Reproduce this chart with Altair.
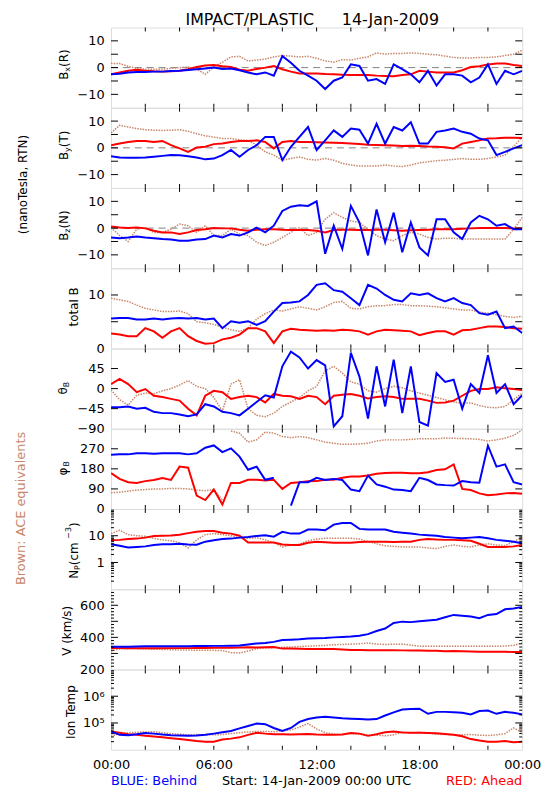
import altair as alt
import pandas as pd

FONT = "DejaVu Sans"
BLUE = "#0000ff"
RED = "#ff0000"
BROWN = "#c8866a"

# time axis (hours after 14-Jan-2009 00:00 UTC), half-hour samples
HOURS = [0.0, 0.5, 1.0, 1.5, 2.0, 2.5, 3.0, 3.5, 4.0, 4.5, 5.0, 5.5, 6.0, 6.5, 7.0, 7.5,
         8.0, 8.5, 9.0, 9.5, 10.0, 10.5, 11.0, 11.5, 12.0, 12.5, 13.0, 13.5, 14.0, 14.5,
         15.0, 15.5, 16.0, 16.5, 17.0, 17.5, 18.0, 18.5, 19.0, 19.5, 20.0, 20.5, 21.0,
         21.5, 22.0, 22.5, 23.0, 23.5, 24.0]

# ---- Bx (R) ----
BX_BLUE = [-2.5, -2.3, -1.8, -1.6, -1.6, -1.5, -1.5, -1.3, -1.2, -0.9, -0.6, -0.3, 0.0, -0.5, -0.3, -1.0,
           -1.8, -2.5, -1.8, -3.0, 4.3, 1.8, -1.2, -3.0, -4.9, -8.0, -4.9, -3.7, 1.2, 0.6, -4.9, -4.3,
           -6.1, 1.2, -0.6, -2.5, -5.5, -1.2, -6.7, -2.5, -2.5, -3.0, -5.5, -3.7, 1.2, -6.1, -1.2, -2.5, -1.2]
BX_RED = [-2.5, -1.8, -1.2, -0.8, -1.2, -1.4, -1.5, -1.4, -1.2, -0.6, 0.2, 0.8, 1.0, 0.5, 0.2, -0.8,
          -1.2, -0.5, 0.0, 0.6, -0.6, -1.5, -2.2, -2.2, -2.2, -2.4, -2.5, -2.7, -2.8, -2.8, -2.8, -3.0,
          -3.1, -3.2, -2.8, -2.5, -1.2, -1.5, -1.8, -1.8, -1.8, -1.0, 0.2, 0.5, 1.2, 1.5, 1.5, 1.0, 0.6]
BX_BROWN = [1.6, 1.5, 0.5, -0.3, -0.6, -0.6, -0.6, -0.3, 0.0, 0.2, -0.5, -2.5, 0.3, 2.0, 4.0, 4.2,
            2.5, 2.8, 3.2, 4.0, 4.5, 4.3, 4.0, 4.2, 3.5, 2.5, 2.0, 3.0, 2.8, 3.5, 4.0, 5.5,
            5.0, 5.3, 5.3, 5.5, 5.3, 5.0, 4.8, 4.3, 3.8, 3.6, 3.6, 3.8, 3.8, 4.0, 4.5, 5.0, 6.5]

# ---- By (T) ----
BY_BLUE = [-3.1, -3.6, -3.7, -3.7, -3.6, -3.3, -3.0, -2.7, -2.8, -3.1, -3.6, -4.3, -4.0, -2.7, -0.8, -3.3,
           -0.8, 1.0, 4.1, 4.1, -4.6, 0.4, 4.1, 7.8, -0.8, 2.8, 6.5, 4.1, 7.2, 6.8, 1.6, 9.0,
           1.6, 7.8, 6.5, 9.6, 1.6, 1.6, 6.0, 6.5, 7.2, 6.0, 5.3, 3.5, 2.8, -2.7, -1.5, -0.2, 1.0]
BY_RED = [1.0, 1.6, 2.2, 2.6, 2.6, 2.2, 2.6, 1.0, -0.2, -1.5, 0.1, 0.4, 1.4, 1.6, 2.2, 2.6,
          2.6, 2.8, 2.2, -0.2, 2.2, 2.6, 2.2, 2.2, 2.1, 2.0, 1.9, 1.8, 1.6, 1.4, 1.2, 1.1,
          1.0, 0.9, 0.7, 0.8, 0.7, 0.5, 0.4, 0.2, -0.2, 1.6, 2.2, 2.8, 3.5, 3.6, 3.8, 3.8, 3.7]
BY_BROWN = [5.6, 8.4, 7.8, 7.2, 6.8, 6.6, 6.5, 6.6, 6.8, 6.2, 5.3, 4.5, 4.0, 3.5, 3.5, 3.0,
            2.8, 1.0, -1.5, -2.7, -4.6, -4.0, -3.4, -4.3, -4.6, -4.0, -4.6, -5.8, -6.4, -6.8, -6.8, -6.8,
            -6.4, -6.8, -7.0, -6.4, -5.6, -5.2, -4.8, -4.6, -4.3, -4.0, -4.3, -4.3, -4.0, -3.4, -2.7, 0.5, 4.0]

# ---- Bz (N) ----
BZ_BLUE = [-3.5, -3.8, -3.5, -3.1, -3.5, -3.8, -4.1, -4.3, -4.7, -4.7, -4.3, -4.1, -2.8, -3.5, -2.2, -2.8,
           -1.6, 0.2, -1.6, 0.9, 6.4, 8.0, 8.5, 8.3, 10.0, -9.6, 0.9, -7.8, 8.3, 2.1, -10.2, 7.0,
           -5.3, 5.8, -9.0, 2.1, -7.2, -10.2, 3.3, 3.3, -1.6, -4.1, 2.1, 4.6, 3.3, 0.9, 1.5, -0.4, -0.4]
BZ_RED = [0.6, 0.2, 0.0, 0.2, -0.1, -1.0, -1.6, -1.6, -2.2, -1.6, -0.7, -0.4, 0.0, -0.1, -0.1, -0.6,
          -1.0, -0.6, -0.4, -0.4, -0.6, -0.7, -0.7, -0.7, -1.0, -1.6, -0.7, -0.6, -0.6, -0.7, -0.7, -0.6,
          -0.6, -0.8, -1.0, -0.8, -0.7, -0.6, -0.4, -0.4, -0.4, -0.2, -0.1, 0.0, 0.0, 0.0, 0.0, -0.1, -0.1]
BZ_BROWN = [0.2, -2.8, -5.0, -0.4, 0.2, -1.6, -1.6, -0.4, 1.5, 0.9, -1.6, 0.9, -2.8, -2.8, -0.4, -2.2,
            -2.8, -5.3, -6.5, -5.3, -3.5, -1.6, 0.2, -2.8, -1.6, 3.3, 5.8, 4.0, 2.7, 2.1, -0.4, -2.8,
            -4.1, -4.7, -2.8, -1.6, -2.2, -3.5, -4.1, -3.8, -3.8, -4.1, -4.1, -4.1, -4.1, -4.1, -4.1, -0.4, 4.0]

# ---- total B ----
TB_BLUE = [5.6, 5.7, 5.7, 5.4, 5.4, 5.6, 5.4, 5.6, 5.7, 5.6, 5.7, 5.4, 5.6, 3.8, 5.1, 4.8,
           5.1, 4.4, 5.1, 6.9, 8.5, 8.6, 8.8, 10.0, 11.9, 12.2, 10.9, 10.6, 9.4, 8.1, 11.9, 11.2,
           10.0, 9.1, 8.8, 10.3, 10.0, 10.3, 9.4, 8.8, 9.4, 8.5, 8.1, 6.6, 6.3, 6.9, 3.8, 4.1, 2.9]
TB_RED = [2.8, 2.6, 2.3, 2.3, 3.8, 3.2, 2.0, 3.2, 3.8, 2.3, 1.4, 0.9, 1.0, 1.7, 2.0, 2.6,
          3.8, 3.8, 3.2, 1.0, 3.2, 3.7, 3.5, 3.4, 3.3, 3.4, 3.3, 3.5, 3.4, 3.2, 2.6, 3.2,
          3.5, 3.4, 3.3, 3.2, 2.5, 2.9, 3.2, 3.2, 2.6, 3.4, 3.5, 3.8, 4.1, 4.1, 4.0, 3.8, 3.7]
TB_BROWN = [9.4, 9.1, 8.8, 8.1, 7.5, 7.2, 6.9, 6.9, 7.0, 6.5, 5.0, 4.8, 4.5, 4.0, 3.5, 3.2,
            3.8, 5.5, 6.5, 7.2, 7.0, 7.4, 7.8, 7.5, 7.2, 7.8, 8.6, 8.8, 7.5, 7.4, 7.8, 8.0,
            8.0, 8.2, 8.2, 8.0, 8.0, 7.9, 7.8, 7.6, 7.4, 7.2, 7.2, 6.8, 6.6, 6.3, 6.0, 5.8, 6.0]

# ---- theta_B ----
TH_BLUE = [-42, -42, -40, -45, -43, -52, -55, -55, -58, -62, -58, -35, -40, -52, -55, -60,
           -45, -30, -15, -20, 50, 83, 70, 45, 64, 52, -85, -62, 80, 27, -67, 50,
           -40, 65, -55, 50, -75, -83, 35, 15, 20, -45, 10, -10, 75, -10, 10, -35, -15]
TH_RED = [10, 22, 10, -8, -1, -16, -19, -23, -27, -45, -60, -16, -5, -8, -23, -19,
          -16, -19, -31, -12, -16, -17, -23, -16, -19, -35, -16, -14, -12, -16, -22, -19,
          -17, -19, -23, -23, -23, -27, -32, -31, -27, -16, -5, -1, -1, 3, 1, -1, -3]
TH_BROWN = [-3, -25, -37, -15, -10, -12, -5, 0, 8, 18, 5, 0, -20, -50, 10, 20,
            -45, -60, -63, -55, -40, -30, -20, -5, 5, 40, 50, 35, 15, 10, -5, -8,
            0, 5, 2, -5, -10, -15, -20, -25, -30, -33, -32, -38, -42, -43, -40, -25, -10]

# ---- phi_B ----
PH_BLUE = [243, 245, 245, 250, 250, 248, 250, 250, 250, 245, 250, 275, 285, 255, 272, 235,
           176, 190, 131, 140, 330, 15, 120, 120, 140, 130, 135, 130, 87, 80, 150, 110,
           100, 87, 85, 80, 140, 130, 110, 107, 105, 125, 120, 118, 284, 190, 200, 120, 110]
PH_RED = [161, 135, 120, 117, 125, 130, 139, 130, 190, 185, 60, 40, 87, 20, 117, 117,
          131, 131, 128, 131, 90, 117, 120, 124, 125, 131, 131, 140, 146, 146, 150, 158,
          161, 163, 163, 160, 160, 165, 175, 178, 200, 90, 85, 70, 62, 65, 70, 72, 68]
PH_BROWN = [73, 75, 80, 85, 87, 90, 90, 92, 92, 90, 85, 82, 87, 40, 350, 340,
            300, 310, 345, 340, 325, 320, 325, 320, 310, 300, 295, 290, 290, 292, 295, 305,
            310, 310, 310, 312, 315, 315, 315, 318, 317, 316, 315, 312, 305, 310, 318, 330, 355]

# ---- Np (cm^-3) ----
NP_BLUE = [4.8, 4.2, 3.6, 3.8, 4.0, 4.5, 4.8, 4.8, 5.0, 4.7, 4.6, 6.0, 6.8, 7.5, 7.8, 8.5,
           9.0, 9.8, 10.4, 9.2, 14, 12, 12, 17, 17, 16, 26, 30, 30, 18, 17, 17,
           17, 14, 13, 12, 11, 10.5, 10, 9, 8.5, 8, 8.5, 9, 8, 7, 6.5, 6, 5.2]
NP_RED = [6.8, 7.0, 7.5, 7.8, 8.5, 9.8, 10, 10.2, 10.8, 12.5, 14, 15, 15, 13, 12, 10,
          5.6, 5.6, 5.6, 5.6, 4.7, 4.5, 4.5, 5.5, 5.9, 5.7, 5.5, 5.5, 5.5, 5.8, 6.0, 6.0,
          5.9, 5.8, 5.9, 6.0, 7.0, 7.6, 7.2, 7.0, 7.0, 6.8, 6.5, 5.0, 3.8, 3.8, 3.8, 4.0, 4.5]
NP_BROWN = [12, 16, 11, 10, 9.5, 8, 7, 6.5, 5.5, 3.5, 7, 11, 12, 11, 10, 8.5,
            8, 8.5, 7, 5.5, 3.8, 4.5, 4.8, 6.5, 7.5, 8, 8, 8, 8, 7.5, 6, 5,
            4.2, 4, 3.8, 3.8, 3.8, 3.5, 3.3, 4, 4.5, 4, 3.8, 4.5, 5, 4.5, 4.3, 6, 9]

# ---- V (km/s) ----
V_BLUE = [342, 342, 342, 343, 344, 344, 344, 344, 345, 345, 346, 346, 347, 347, 348, 350,
          356, 362, 365, 372, 383, 385, 388, 393, 395, 396, 400, 403, 405, 410, 420, 440,
          455, 490, 498, 495, 500, 505, 510, 525, 540, 535, 530, 520, 540, 545, 575, 580, 590]
V_RED = [334, 333, 332, 332, 333, 332, 332, 333, 333, 333, 334, 334, 335, 336, 336, 337,
         338, 337, 338, 340, 330, 330, 329, 328, 328, 327, 327, 325, 322, 321, 320, 320,
         320, 320, 319, 318, 318, 317, 316, 314, 315, 313, 312, 311, 311, 310, 310, 309, 309]
V_BROWN = [313, 328, 330, 330, 328, 326, 325, 323, 322, 321, 320, 320, 319, 318, 305, 303,
           315, 330, 334, 336, 338, 340, 343, 345, 348, 350, 354, 356, 358, 360, 365, 358,
           356, 357, 358, 352, 345, 345, 344, 344, 345, 344, 345, 344, 345, 344, 346, 350, 365]

# ---- Ion Temp (K) ----
TI_BLUE = [4.8e4, 3.6e4, 3.5e4, 3.8e4, 4.2e4, 4.0e4, 3.7e4, 3.5e4, 3.4e4, 3.3e4, 3.4e4, 3.6e4,
           4.0e4, 4.5e4, 5.0e4, 6.3e4, 7.7e4, 9.5e4, 9.0e4, 6.5e4, 5.0e4, 6.5e4, 1.1e5, 1.4e5,
           1.6e5, 1.7e5, 1.6e5, 1.5e5, 1.45e5, 1.4e5, 1.35e5, 1.4e5, 1.9e5, 2.5e5, 3.2e5, 3.3e5,
           3.4e5, 2.2e5, 2.6e5, 2.6e5, 2.5e5, 2.4e5, 2.1e5, 2.8e5, 2.9e5, 2.2e5, 2.6e5, 2.4e5, 2.1e5]
TI_RED = [4.8e4, 4.3e4, 3.8e4, 3.6e4, 3.3e4, 3.1e4, 2.9e4, 2.7e4, 2.5e4, 2.3e4, 2.1e4, 2.0e4,
          2.0e4, 2.4e4, 2.6e4, 2.9e4, 3.6e4, 4.3e4, 4.0e4, 3.8e4, 3.8e4, 3.7e4, 3.8e4, 3.9e4,
          3.7e4, 3.6e4, 3.6e4, 3.7e4, 4.2e4, 4.0e4, 3.3e4, 3.8e4, 4.5e4, 4.8e4, 4.4e4, 4.3e4,
          4.3e4, 4.2e4, 4.1e4, 3.9e4, 3.6e4, 3.2e4, 2.5e4, 2.2e4, 2.0e4, 2.0e4, 2.1e4, 1.9e4, 2.0e4]
TI_BROWN = [3.2e4, 4.0e4, 4.3e4, 4.5e4, 4.6e4, 4.7e4, 4.3e4, 4.0e4, 3.8e4, 3.6e4, 3.7e4, 3.6e4,
            3.6e4, 3.7e4, 4.0e4, 4.3e4, 4.6e4, 4.8e4, 4.8e4, 4.7e4, 5.0e4, 5.5e4, 7.0e4, 9.5e4,
            6.0e4, 4.3e4, 3.8e4, 3.7e4, 4.0e4, 3.8e4, 3.6e4, 3.5e4, 3.3e4, 3.6e4, 4.6e4, 4.2e4,
            4.5e4, 4.3e4, 3.8e4, 3.7e4, 3.6e4, 3.6e4, 3.7e4, 3.5e4, 3.4e4, 3.6e4, 4.0e4, 6.5e4, 4.5e4]

PANEL_DATA = [
    ("bx", BX_BROWN, BX_RED, BX_BLUE),
    ("by", BY_BROWN, BY_RED, BY_BLUE),
    ("bz", BZ_BROWN, BZ_RED, BZ_BLUE),
    ("tb", TB_BROWN, TB_RED, TB_BLUE),
    ("th", TH_BROWN, TH_RED, TH_BLUE),
    ("ph", PH_BROWN, PH_RED, PH_BLUE),
    ("np", NP_BROWN, NP_RED, NP_BLUE),
    ("v", V_BROWN, V_RED, V_BLUE),
    ("ti", TI_BROWN, TI_RED, TI_BLUE),
]

X_LABELS = [0, 6, 12, 18, 24]
X_TICKS = [2, 4, 6, 8, 10, 12, 14, 16, 18, 20, 22]
NP_MINOR = [m * d for d in (0.1, 1, 10) for m in range(2, 10)]
TI_MINOR = [m * d for d in (1e4, 1e5, 1e6) for m in range(2, 10)]
V_MINOR = [v for v in range(220, 700, 20) if v % 100 != 0]

SPEC = {
    "bx": dict(domain=[-15, 15], log=False, labels=[-10, 0, 10], major=[-10, -5, 0, 5, 10], minor=[],
               zero=True, title=[("B", 12, 0), ("x", 8, 4), ("(R)", 12, 0)], tx=-47, ty=37.5),
    "by": dict(domain=[-15, 15], log=False, labels=[-10, 0, 10], major=[-10, -5, 0, 5, 10], minor=[],
               zero=True, title=[("B", 12, 0), ("y", 8, 4), ("(T)", 12, 0)], tx=-47, ty=38),
    "bz": dict(domain=[-15, 15], log=False, labels=[-10, 0, 10], major=[-10, -5, 0, 5, 10], minor=[],
               zero=True, title=[("B", 12, 0), ("z", 8, 4), ("(N)", 12, 0)], tx=-47, ty=38),
    "tb": dict(domain=[0, 15], log=False, labels=[0, 10], major=[5, 10], minor=[],
               zero=False, title=[("total B", 12, 0)], tx=-37, ty=39),
    "th": dict(domain=[-90, 90], log=False, labels=[-90, -45, 0, 45], major=[-45, 0, 45], minor=[],
               zero=False, title=[("θ", 12, 0), ("B", 8, 4)], tx=-48, ty=40),
    "ph": dict(domain=[0, 360], log=False, labels=[0, 90, 180, 270], major=[90, 180, 270], minor=[],
               zero=False, title=[("φ", 12, 0), ("B", 8, 4)], tx=-48, ty=40),
    "np": dict(domain=[0.1, 100], log=True, labels=[1, 10], major=[1, 10], minor=NP_MINOR,
               zero=False, title=[("N", 12, 0), ("P", 8, 4), (" (cm", 12, 0), ("−3", 8, -5), (")", 12, 0)],
               tx=-37, ty=42),
    "v": dict(domain=[200, 700], log=False, labels=[200, 400, 600], major=[300, 400, 500, 600], minor=V_MINOR,
              zero=False, title=[("V (km/s)", 12, 0)], tx=-44, ty=42),
    "ti": dict(domain=[1e4, 1e7], log=True, labels=[1e5, 1e6], major=[1e5, 1e6], minor=TI_MINOR,
               zero=False, title=[("Ion Temp", 12, 0)], tx=-40, ty=42, sup=True),
}

W, H = 415, 81
CW = {"B": .686, "x": .592, "y": .592, "z": .525, "(": .39, ")": .39, "R": .695, "T": .611, "N": .748,
      "t": .392, "o": .612, "a": .613, "l": .278, " ": .318, "θ": .602, "φ": .75, "P": .603, "c": .55,
      "m": .974, "−": .838, "3": .636, "V": .684, "k": .579, "/": .337, "s": .521, "I": .295, "n": .634,
      "e": .615, "p": .635}


def text_width(s, size):
    return sum(CW.get(ch, 0.6) for ch in s) * size


rows = []
for key, brown, red, blue in PANEL_DATA:
    for name, vals in (("brown", brown), ("red", red), ("blue", blue)):
        assert len(vals) == len(HOURS), (key, name, len(vals))
        seg, prev = 0, None
        for t, v in zip(HOURS, vals):
            if key == "ph" and prev is not None and abs(v - prev) > 180:
                seg += 1  # angle wrap: break the trace
            rows.append({"panel": key, "series": name, "t": t, "v": v, "seg": seg})
            prev = v
DF = pd.DataFrame(rows)
ONE = pd.DataFrame({"a": [0]})


def xenc(field, bottom):
    if bottom:
        axis = alt.Axis(values=X_LABELS, ticks=False, domain=False, grid=False, title=None,
                        labelExpr="(datum.value % 24 < 10 ? '0' : '') + (datum.value % 24) + ':00'",
                        labelPadding=9, labelFontSize=13, labelFont=FONT, labelFlush=False,
                        labelOverlap=False, labelColor="black", tickSize=0)
    else:
        axis = None
    return alt.X(f"{field}:Q", scale=alt.Scale(domain=[0, 24], nice=False, zero=False), axis=axis)


def yenc(field, sp):
    if sp["log"]:
        scale = alt.Scale(type="log", domain=sp["domain"], nice=False)
    else:
        scale = alt.Scale(domain=sp["domain"], nice=False, zero=False)
    kw = dict(values=sp["labels"], ticks=False, domain=False, grid=False, title=None, labelPadding=7,
              labelFontSize=13, labelFont=FONT, labelColor="black", labelOverlap=False, labelFlush=False,
              tickSize=0)
    if sp.get("sup"):
        kw["labelExpr"] = "datum.value >= 1000000 ? '10⁶' : '10⁵'"
    else:
        kw["format"] = "d"
    return alt.Y(f"{field}:Q", scale=scale, axis=alt.Axis(**kw))


def txt(text, x, y, size=13, color="black", angle=0, align="center", baseline="middle"):
    kw = dict(text=text, fontSize=size, font=FONT, color=color, align=align, baseline=baseline)
    if angle:
        kw["angle"] = angle
    return alt.Chart(ONE).mark_text(**kw).encode(x=alt.value(x), y=alt.value(y))


def make_panel(idx, key):
    sp = SPEC[key]
    bottom = idx == len(PANEL_DATA) - 1
    layers = []
    if sp["zero"]:
        layers.append(alt.Chart(pd.DataFrame({"val": [0]})).mark_rule(
            color="#808080", strokeDash=[7, 5], strokeWidth=1).encode(y=yenc("val", sp)))
    for name, color, sw, dash in (("brown", BROWN, 1.5, [1.5, 1.2]), ("red", RED, 2.0, None),
                                  ("blue", BLUE, 2.0, None)):
        mk = dict(color=color, strokeWidth=sw, clip=True, interpolate="linear")
        if dash:
            mk["strokeDash"] = dash
        layers.append(
            alt.Chart(DF).transform_filter(
                (alt.datum.panel == key) & (alt.datum.series == name)
            ).mark_line(**mk).encode(
                x=xenc("t", bottom), y=yenc("v", sp), detail="seg:N", order="t:Q")
        )
    # inward ticks
    xt = pd.DataFrame({"h": X_TICKS})
    layers.append(alt.Chart(xt).mark_rule(color="black").encode(
        x=xenc("h", bottom), y=alt.value(0), y2=alt.value(4)))
    layers.append(alt.Chart(xt).mark_rule(color="black").encode(
        x=xenc("h", bottom), y=alt.value(H - 4), y2=alt.value(H)))
    yt = pd.DataFrame({"val": sp["major"]})
    layers.append(alt.Chart(yt).mark_rule(color="black").encode(
        y=yenc("val", sp), x=alt.value(0), x2=alt.value(7)))
    layers.append(alt.Chart(yt).mark_rule(color="black").encode(
        y=yenc("val", sp), x=alt.value(W - 7), x2=alt.value(W)))
    if sp["minor"]:
        ym = pd.DataFrame({"val": sp["minor"]})
        layers.append(alt.Chart(ym).mark_rule(color="black").encode(
            y=yenc("val", sp), x=alt.value(0), x2=alt.value(3)))
        layers.append(alt.Chart(ym).mark_rule(color="black").encode(
            y=yenc("val", sp), x=alt.value(W - 3), x2=alt.value(W)))
    # rotated y title with sub/superscripts
    total = sum(text_width(s, sz) for s, sz, _ in sp["title"])
    ypos = sp["ty"] + total / 2
    for s, sz, shift in sp["title"]:
        layers.append(txt(s, sp["tx"] + shift, ypos, size=sz, angle=270, align="left"))
        ypos -= text_width(s, sz)
    if idx == 0:
        layers.append(txt("IMPACT/PLASTIC", 140, -8, size=16))
        layers.append(txt("14-Jan-2009", 282, -8, size=16))
        layers.append(txt("(nanoTesla, RTN)", -89, 158.5, size=12, angle=270))
        layers.append(txt("Brown: ACE equivalents", -91, 485.5, size=13, color=BROWN, angle=270))
    if bottom:
        layers.append(txt("BLUE: Behind", 0, H + 39, color=BLUE, align="left", baseline="bottom"))
        layers.append(txt("Start: 14-Jan-2009 00:00 UTC", W / 2, H + 39, baseline="bottom"))
        layers.append(txt("RED: Ahead", W, H + 39, color=RED, align="right", baseline="bottom"))
    return alt.layer(*layers).properties(width=W, height=H)


panels = [make_panel(i, k) for i, (k, *_rest) in enumerate(PANEL_DATA)]

chart = alt.vconcat(*panels, spacing=0, bounds="flush").properties(
    padding={"left": 6, "top": -1, "right": 0, "bottom": -2}
).configure_view(stroke="black", strokeWidth=1).configure(font=FONT, background="white")

chart.save("out.html", embed_options={"renderer": "svg", "actions": False})
